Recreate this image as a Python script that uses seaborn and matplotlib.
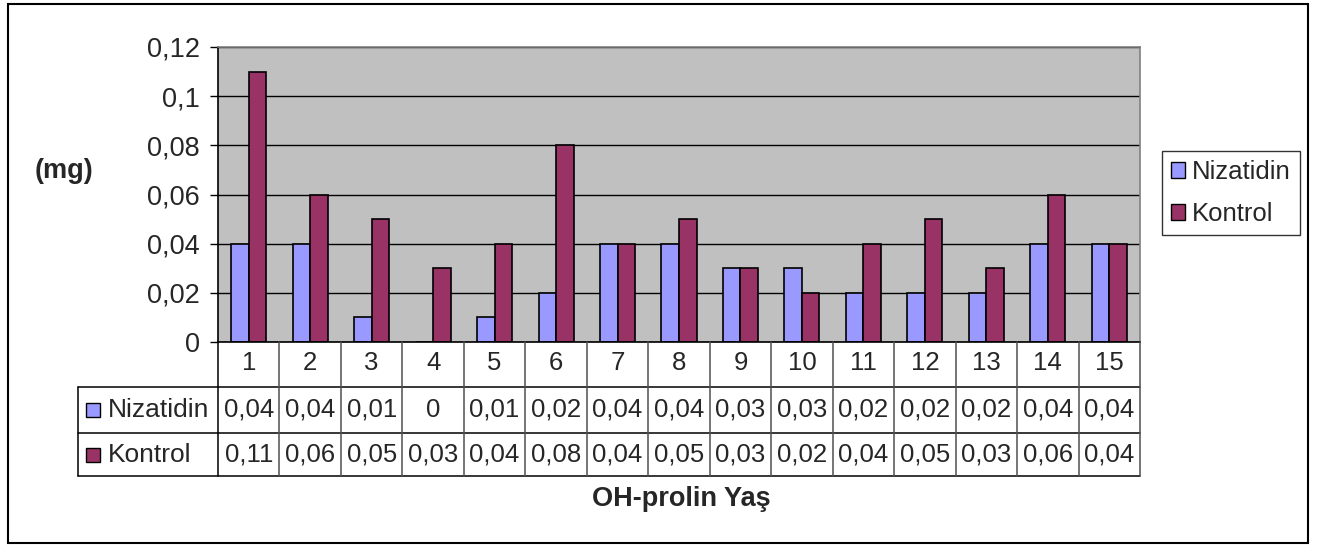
import numpy as np
import pandas as pd
import seaborn as sns
import matplotlib.pyplot as plt
from matplotlib import transforms
from matplotlib.lines import Line2D
from matplotlib.patches import Rectangle, Patch

# data
categories = [str(i) for i in range(1, 16)]
nizatidin = [0.04, 0.04, 0.01, 0, 0.01, 0.02, 0.04, 0.04, 0.03, 0.03, 0.02, 0.02, 0.02, 0.04, 0.04]
kontrol = [0.11, 0.06, 0.05, 0.03, 0.04, 0.08, 0.04, 0.05, 0.03, 0.02, 0.04, 0.05, 0.03, 0.06, 0.04]
series = ["Nizatidin", "Kontrol"]
colors = ["#9999FF", "#993366"]
yticks = [0, 0.02, 0.04, 0.06, 0.08, 0.1, 0.12]


def fmt(v):
    return f"{v:g}".replace(".", ",")


W, H = 1317, 545
sns.set_theme(style="white")
plt.rcParams["font.family"] = ["Liberation Sans", "DejaVu Sans"]

fig = plt.figure(figsize=(W / 100, H / 100), dpi=100)
L, R, T, B = 218, 1140, 47, 342
ax = fig.add_axes([L / W, 1 - B / H, (R - L) / W, (B - T) / H])

df = pd.DataFrame({
    "kat": categories * 2,
    "deger": nizatidin + kontrol,
    "seri": [series[0]] * len(categories) + [series[1]] * len(categories),
})
sns.barplot(data=df, x="kat", y="deger", hue="seri", hue_order=series,
            palette=colors, width=0.57, edgecolor="black", linewidth=1.2,
            saturation=1, legend=False, ax=ax)

ax.set_facecolor("#C0C0C0")
ax.set_xlim(-0.5, len(categories) - 0.5)
ax.set_ylim(0, 0.12)
ax.set_yticks(yticks)
ax.set_yticklabels([fmt(v) for v in yticks], fontsize=19.5)
ax.set_xticks([])
ax.set_xlabel("")
ax.set_ylabel("")
ax.yaxis.grid(True, color="black", lw=1)
ax.set_axisbelow(True)
ax.tick_params(axis="y", direction="out", length=6, width=1, color="black", left=True, pad=7)
for s in ["left", "bottom"]:
    ax.spines[s].set_color("black")
    ax.spines[s].set_linewidth(1.2)
for s in ["top", "right"]:
    ax.spines[s].set_color("#808080")
    ax.spines[s].set_linewidth(1.2)

# data table below the plot
tr = transforms.blended_transform_factory(ax.transData, fig.transFigure)
colw = (R - L) / len(categories)
xl = -0.5 - (L - 78) / colw
xr = len(categories) - 0.5
rows = [342, 387, 433, 476]


def fy(py):
    return 1 - py / H


def hline(py, x0, x1):
    fig.add_artist(Line2D([x0, x1], [fy(py), fy(py)], transform=tr, color="black", lw=1.1))


def vline(x, p0, p1, c="black"):
    fig.add_artist(Line2D([x, x], [fy(p0), fy(p1)], transform=tr, color=c, lw=1.1))


for py in rows[1:]:
    hline(py, xl, xr)
vline(-0.5, rows[0], rows[-1])
vline(xl, rows[1], rows[-1])
for i in range(len(categories)):
    vline(i + 0.5, rows[0], rows[-1], c="#505050")

yc = [(rows[k] + rows[k + 1]) / 2 for k in range(3)]
for i, c in enumerate(categories):
    fig.text(i, fy(yc[0] - 1), c, transform=tr, ha="center", va="center", fontsize=18.5)
    fig.text(i, fy(yc[1]), fmt(nizatidin[i]), transform=tr, ha="center", va="center", fontsize=18.5)
    fig.text(i, fy(yc[2]), fmt(kontrol[i]), transform=tr, ha="center", va="center", fontsize=18.5)

for k, (name, col) in enumerate(zip(series, colors)):
    y = yc[k + 1]
    fig.add_artist(Rectangle((86 / W, fy(y + 7)), 14 / W, 14 / H, transform=fig.transFigure,
                             facecolor=col, edgecolor="black", lw=1))
    fig.text(108 / W, fy(y), name, ha="left", va="center", fontsize=19)

# legend
handles = [Patch(facecolor=c, edgecolor="black", label=s) for s, c in zip(series, colors)]
fig.legend(handles=handles, loc="upper left", bbox_to_anchor=(1162 / W, fy(151)),
           frameon=True, fancybox=False, edgecolor="black", fontsize=18.5,
           handlelength=0.55, handleheight=0.55, handletextpad=0.25,
           borderpad=0.36, labelspacing=0.7, borderaxespad=0)

fig.text(64 / W, fy(171), "(mg)", ha="center", va="center", fontsize=19.5, weight="bold")
fig.text(681 / W, fy(499), "OH-prolin Yaş", ha="center", va="center", fontsize=19.5, weight="bold")

fig.add_artist(Rectangle((8 / W, fy(543)), 1300 / W, 539 / H, transform=fig.transFigure,
                         fill=False, edgecolor="black", lw=1.5))

fig.savefig("out.png", dpi=100)
